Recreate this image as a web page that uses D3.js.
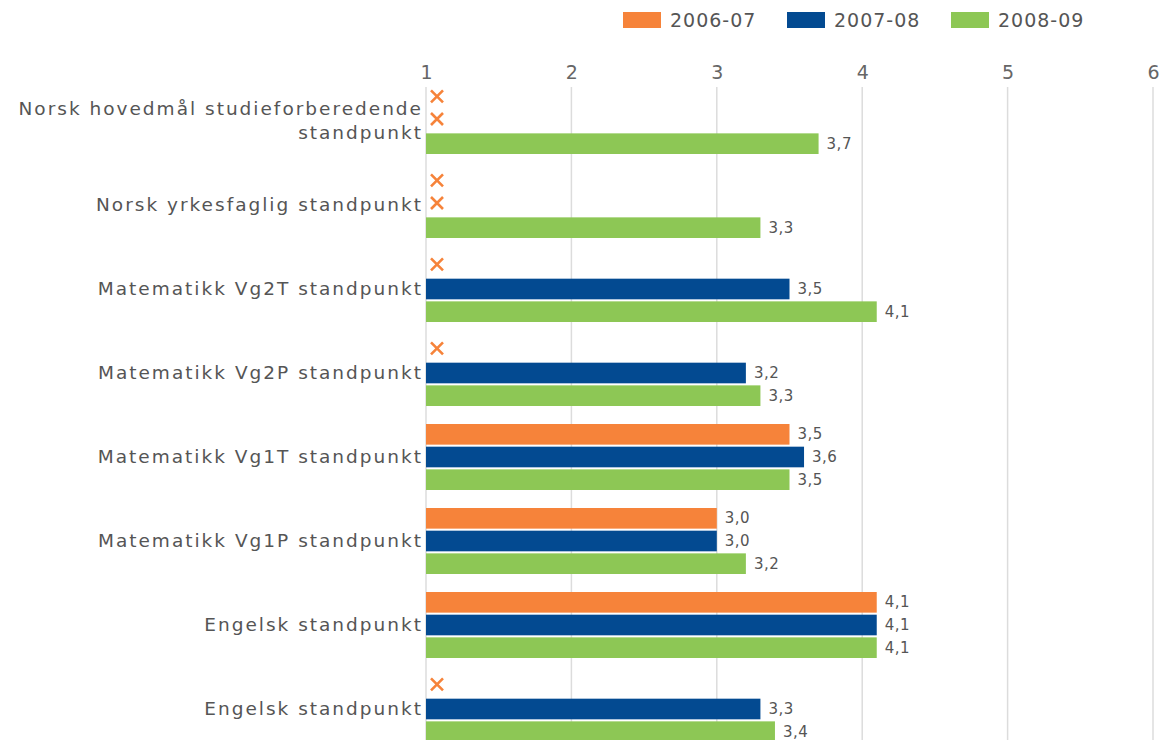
<!DOCTYPE html>
<html>
<head>
<meta charset="utf-8">
<script src="https://cdn.jsdelivr.net/npm/d3@7"></script>
<style>
  body { margin: 0; background: #fff; }
  text { font-family: "DejaVu Sans", Verdana, sans-serif; }
</style>
</head>
<body>
<svg id="chart"></svg>
<script>
// data (null = no value, drawn as an orange x)
const categories = [
  "Norsk hovedmål studieforberedende standpunkt",
  "Norsk yrkesfaglig standpunkt",
  "Matematikk Vg2T standpunkt",
  "Matematikk Vg2P standpunkt",
  "Matematikk Vg1T standpunkt",
  "Matematikk Vg1P standpunkt",
  "Engelsk standpunkt",
  "Engelsk standpunkt"
];
const seriesNames = ["2006-07", "2007-08", "2008-09"];
const values0607 = [null, null, null, null, 3.5, 3.0, 4.1, null];
const values0708 = [null, null, 3.5, 3.2, 3.6, 3.0, 4.1, 3.3];
const values0809 = [3.7, 3.3, 4.1, 3.3, 3.5, 3.2, 4.1, 3.4];
const xTicks = [1, 2, 3, 4, 5, 6];
const colors = ["#f6833a", "#034a91", "#8dc755"];

const W = 1174, H = 740;
const svg = d3.select("#chart").attr("width", W).attr("height", H);

const x = d3.scaleLinear().domain([1, 6]).range([426, 1153]);
const y = d3.scaleBand().domain(d3.range(categories.length))
  .range([79, 79 + 84 * categories.length])
  .paddingInner(18 / 84).paddingOuter(9 / 84);
const ySub = d3.scaleBand().domain(d3.range(3)).range([0, y.bandwidth()]).paddingInner(0.09);

const series = [values0607, values0708, values0809];
const fmt = v => d3.format(".1f")(v).replace(".", ",");

// grid + top axis
const axis = svg.append("g").attr("transform", "translate(0,87)")
  .call(d3.axisTop(x).tickValues(xTicks).tickFormat(d3.format("d")).tickSize(0).tickPadding(8));
axis.select(".domain").remove();
axis.selectAll("text").attr("font-size", 19).attr("fill", "#666")
  .style("font-family", "DejaVu Sans");
svg.append("g").selectAll("line").data(xTicks).join("line")
  .attr("x1", d => x(d)).attr("x2", d => x(d))
  .attr("y1", 87).attr("y2", H)
  .attr("stroke", "#dcdcdc").attr("stroke-width", 1.5);

// groups
const groups = svg.append("g").selectAll("g").data(categories).join("g")
  .attr("transform", (d, i) => "translate(0," + y(i) + ")");

groups.each(function(cat, i) {
  const g = d3.select(this);
  series.forEach((vals, s) => {
    const v = vals[i];
    const top = ySub(s);
    if (v == null) {
      const cx = x(1) + 11, cy = top + ySub.bandwidth() / 2 - 2;
      g.append("path")
        .attr("d", `M${cx - 6},${cy - 6}L${cx + 6},${cy + 6}M${cx + 6},${cy - 6}L${cx - 6},${cy + 6}`)
        .attr("stroke", colors[0]).attr("stroke-width", 2.6).attr("fill", "none");
    } else {
      g.append("rect")
        .attr("x", x(1)).attr("y", top)
        .attr("width", x(v) - x(1)).attr("height", ySub.bandwidth())
        .attr("fill", colors[s]);
      g.append("text")
        .attr("x", x(v) + 8).attr("y", top + ySub.bandwidth() / 2 + 5)
        .attr("font-size", 15).attr("fill", "#555")
        .attr("letter-spacing", 0.5)
        .text(fmt(v));
    }
  });

  // category label, right aligned, wrapped when too long
  const lbl = g.append("text").attr("text-anchor", "end")
    .attr("font-size", 18.5).attr("fill", "#555").attr("letter-spacing", 2);
  const words = cat.split(" ");
  let lines = [[]];
  const probe = lbl.append("tspan");
  words.forEach(w => {
    const cur = lines[lines.length - 1];
    probe.text(cur.concat(w).join(" "));
    if (probe.node().getComputedTextLength() > 412 && cur.length) lines.push([w]);
    else cur.push(w);
  });
  probe.remove();
  const mid = y.bandwidth() / 2 + 6;
  lines.forEach((ln, k) => {
    lbl.append("tspan").attr("x", 423)
      .attr("y", mid + (k - (lines.length - 1) / 2) * 24)
      .text(ln.join(" "));
  });
});

// legend
const legendX = [623, 787, 951];
const legend = svg.append("g").selectAll("g").data(seriesNames).join("g")
  .attr("transform", (d, i) => "translate(" + legendX[i] + ",12)");
legend.append("rect").attr("width", 38).attr("height", 16)
  .attr("fill", (d, i) => colors[i]);
legend.append("text").attr("x", 47).attr("y", 15)
  .attr("font-size", 19).attr("fill", "#555").attr("letter-spacing", 1).text(d => d);
</script>
</body>
</html>
